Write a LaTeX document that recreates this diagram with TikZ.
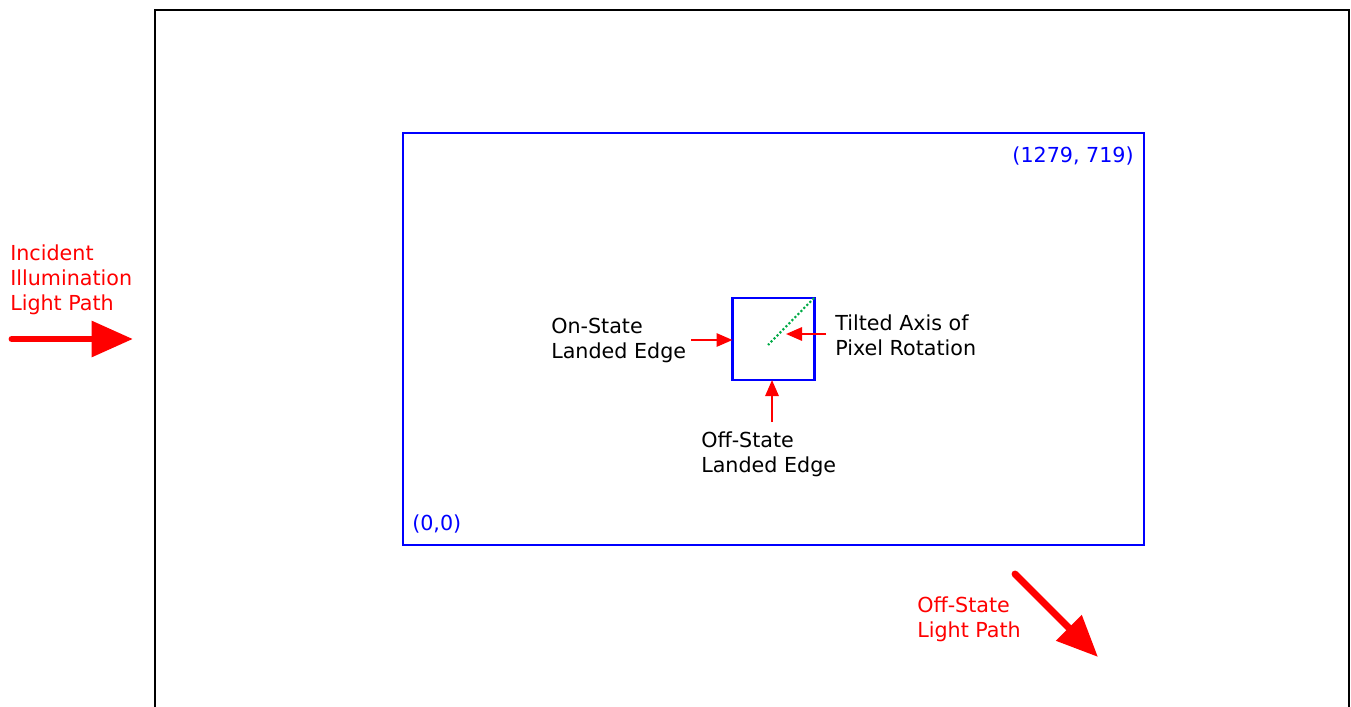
\documentclass[tikz,border=0pt]{standalone}
\usepackage{fontspec}
\setmainfont{DejaVu Sans}
\usetikzlibrary{arrows.meta}
\definecolor{dotgreen}{RGB}{0,170,70}
\tikzset{
  lbl/.style={anchor=west, inner sep=0pt, align=left, font=\fontsize{15.5}{18.75}\selectfont},
  redlbl/.style={lbl, text=red},
  bluelbl/.style={inner sep=0pt, text=blue, font=\fontsize{15.5}{18.75}\selectfont},
  bigarrow/.style={draw=red, line width=5.2pt, line cap=round, -{Triangle[length=31pt,width=26pt]}},
  smallarrow/.style={draw=red, line width=1.5pt, -{Triangle[length=12pt,width=10pt]}},
  frame/.style={draw=black, line width=2pt},
  bluebox/.style={draw=blue, line width=2pt},
}
\begin{document}
\begin{tikzpicture}[x=0.75pt,y=-0.75pt]
\useasboundingbox (0,0) rectangle (1351,706);
\clip (0,0) rectangle (1351,706);
\draw[frame] (155,10) rectangle (1349,730);
\draw[bluebox] (403,133) rectangle (1144,545);
\node[bluelbl, anchor=east] (tr) at (1134,156) {(1279, 719)};
\node[bluelbl, anchor=west] (bl) at (412,524) {(0,0)};
% pixel
\node[bluebox, minimum width=82*0.75pt, minimum height=82*0.75pt, inner sep=0pt, outer sep=0pt] (px) at (773.5,339) {};
\coordinate (axA) at (814,298);
\coordinate (axB) at (768,345);
\draw[dotgreen, line width=1.6pt, dash pattern=on 1.6pt off 1.6pt] (axA) -- (axB);
% labels
\node[redlbl] (inc) at (10,279.5) {Incident\\Illumination\\Light Path};
\coordinate (incS) at (12,339);
\coordinate (incE) at (133,339);
\draw[bigarrow] (incS) -- (incE);
\node[lbl] (on) at (551,340.5) {On-State\\Landed Edge};
\coordinate (onS) at (691,340);
\draw[smallarrow] (onS) -- (px.west |- onS);
\node[lbl] (tilt) at (835,335.5) {Tilted Axis of\\Pixel Rotation};
\coordinate (tiltS) at (826,334);
\coordinate (tiltE) at (786,334);
\draw[smallarrow] (tiltS) -- (tiltE);
\node[lbl] (off) at (701,454.5) {Off-State\\Landed Edge};
\coordinate (offS) at (772,422);
\draw[smallarrow] (offS) -- (offS |- px.south);
\node[redlbl] (offl) at (917,619.5) {Off-State\\Light Path};
\coordinate (olS) at (1015,574);
\coordinate (olE) at (1098,657);
\draw[bigarrow] (olS) -- (olE);
\end{tikzpicture}
\end{document}
